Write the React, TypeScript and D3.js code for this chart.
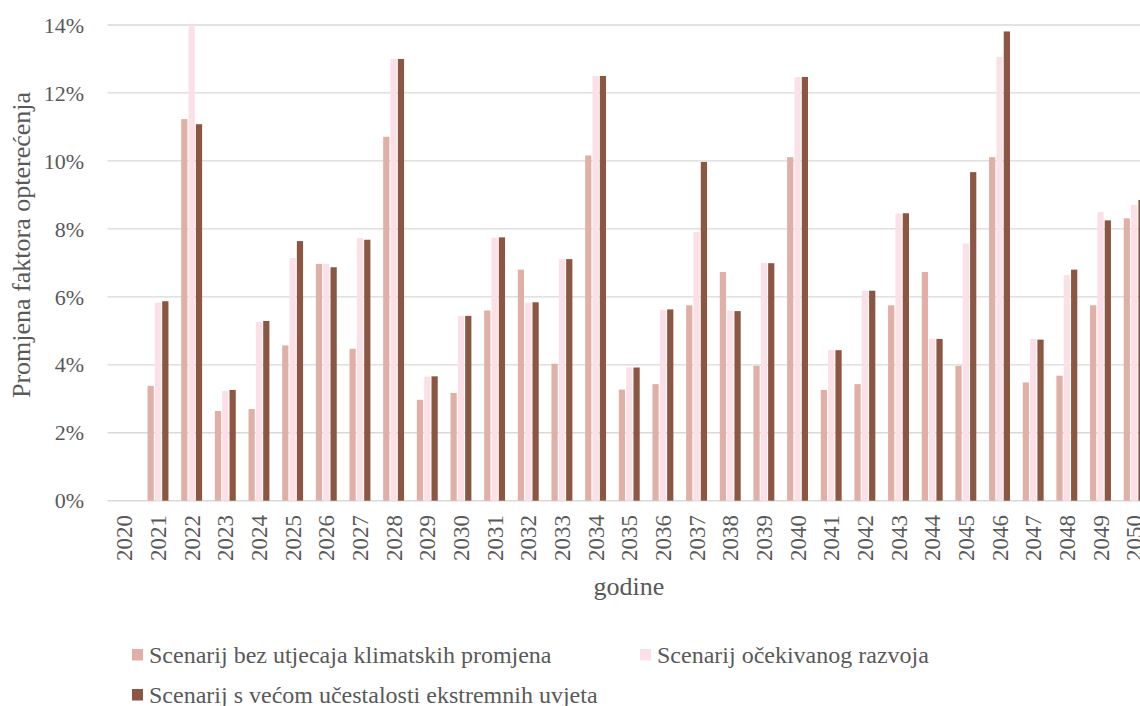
import React from 'react'
import * as d3 from 'd3'

// years on the x axis
const years: string[] = d3.range(2020, 2051).map(String)

// change of load factor, in %
const noClimate: number[] = [
  0, 3.38, 11.23, 2.64, 2.70, 4.57, 6.97, 4.47, 10.71, 2.97,
  3.17, 5.60, 6.80, 4.03, 10.16, 3.27, 3.43, 5.75, 6.73, 3.97,
  10.11, 3.26, 3.43, 5.75, 6.73, 3.97, 10.11, 3.48, 3.68, 5.75, 8.31
]
const expected: number[] = [
  0, 5.83, 14.0, 3.23, 5.26, 7.14, 6.97, 7.73, 13.0, 3.65,
  5.44, 7.74, 5.83, 7.11, 12.50, 3.92, 5.62, 7.91, 5.60, 7.00,
  12.47, 4.43, 6.18, 8.45, 4.76, 7.57, 13.06, 4.76, 6.64, 8.50, 8.70
]
const extreme: number[] = [
  0, 5.87, 11.08, 3.26, 5.29, 7.64, 6.87, 7.68, 13.0, 3.66,
  5.44, 7.75, 5.84, 7.11, 12.50, 3.92, 5.63, 9.97, 5.58, 6.99,
  12.47, 4.43, 6.18, 8.46, 4.76, 9.67, 13.81, 4.74, 6.80, 8.25, 8.85
]

const seriesNames: string[] = [
  'Scenarij bez utjecaja klimatskih promjena',
  'Scenarij očekivanog razvoja',
  'Scenarij s većom učestalosti ekstremnih uvjeta'
]
const seriesValues: number[][] = [noClimate, expected, extreme]
const yTicks: number[] = [0, 2, 4, 6, 8, 10, 12, 14]

const colors = ['#e0b0a6', '#fbe0e8', '#8b5742']
const textColor = '#595959'
const fontStyle = { fontFamily: "'Liberation Serif', 'Times New Roman', Times, serif" }

const W = 1140
const H = 706
const plot = { left: 107.5, right: 1151, top: 25, bottom: 500.7 }

const App = () => {
  const x0 = d3.scaleBand<string>()
    .domain(years)
    .range([plot.left, plot.right])
    .padding(0)

  const step = x0.bandwidth()
  const groupW = 22
  const x1 = d3.scaleBand<number>()
    .domain([0, 1, 2])
    .range([(step - groupW) / 2, (step + groupW) / 2])
    .paddingInner(0.15)
    .paddingOuter(0.075)

  const y = d3.scaleLinear().domain([0, 14]).range([plot.bottom, plot.top])

  return (
    <svg
      width={W}
      height={H}
      viewBox={`0 0 ${W} ${H}`}
      style={{ position: 'absolute', left: 0, top: 0, background: '#fff', ...fontStyle }}
    >
      <rect x={0} y={0} width={W} height={H} fill='#fff' />

      {/* gridlines */}
      {yTicks.map(t => (
        <line
          key={`g-${t}`}
          x1={plot.left}
          x2={plot.right}
          y1={y(t)}
          y2={y(t)}
          stroke='#d9d9d9'
          strokeWidth={t === 0 ? 1.5 : 1.3}
        />
      ))}

      {/* bars */}
      {seriesValues.map((vals, si) => (
        <g key={`s-${si}`} fill={colors[si]}>
          {vals.map((v, i) => v > 0
            ? (
              <rect
                key={`${si}-${years[i]}`}
                x={(x0(years[i]) as number) + (x1(si) as number)}
                y={y(v)}
                width={x1.bandwidth()}
                height={y(0) - y(v)}
              />
              )
            : null)}
        </g>
      ))}

      {/* y ticks */}
      {yTicks.map(t => (
        <text
          key={`yt-${t}`}
          x={84}
          y={y(t)}
          dy='0.35em'
          textAnchor='end'
          fontSize={22}
          fill={textColor}
          style={fontStyle}
        >
          {`${t}%`}
        </text>
      ))}

      {/* x ticks */}
      {years.map(yr => {
        const cx = (x0(yr) as number) + step / 2
        return (
          <text
            key={`xt-${yr}`}
            transform={`translate(${cx}, 515) rotate(-90)`}
            dy='0.35em'
            textAnchor='end'
            fontSize={23}
            fill={textColor}
            style={fontStyle}
          >
            {yr}
          </text>
        )
      })}

      {/* axis titles */}
      <text
        transform='translate(30, 245) rotate(-90)'
        textAnchor='middle'
        fontSize={26}
        fill={textColor}
        style={fontStyle}
      >
        Promjena faktora opterećenja
      </text>
      <text x={629} y={595} textAnchor='middle' fontSize={26} fill={textColor} style={fontStyle}>
        godine
      </text>

      {/* legend */}
      {seriesNames.map((name, i) => {
        const lx = i === 1 ? 640 : 132
        const ly = i === 2 ? 689 : 649
        return (
          <g key={`lg-${i}`}>
            <rect x={lx} y={ly} width={11} height={11.5} fill={colors[i]} />
            <text x={lx + 17} y={ly + 14} fontSize={24} fill={textColor} style={fontStyle}>
              {name}
            </text>
          </g>
        )
      })}
    </svg>
  )
}

export default App
